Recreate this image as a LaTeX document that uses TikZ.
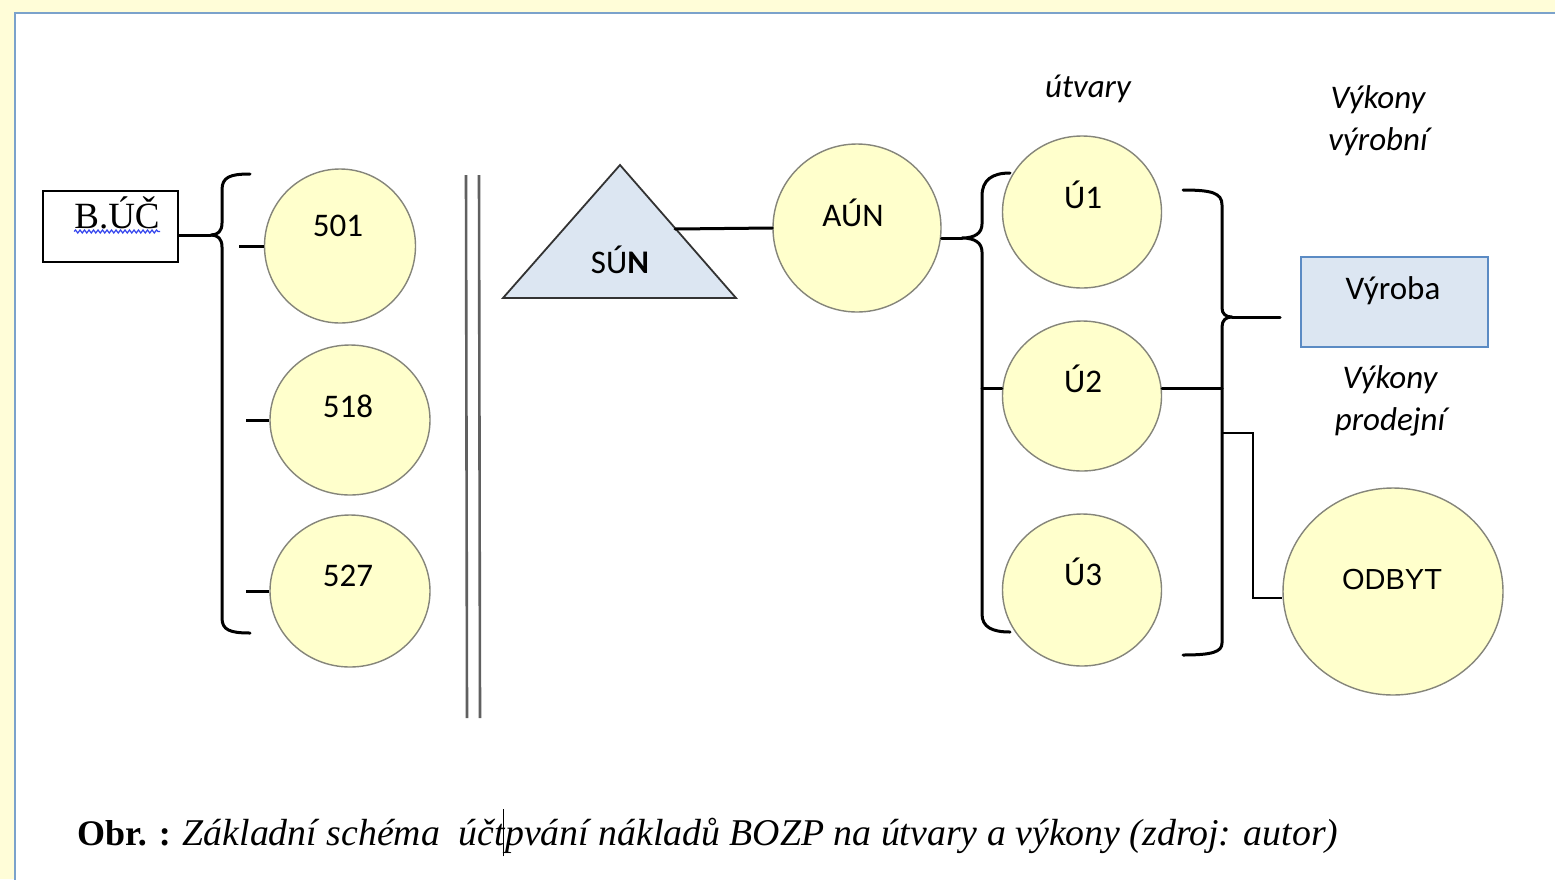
\documentclass[tikz,border=0pt]{standalone}
\usepackage{fontspec}
\setmainfont{Carlito}
\newfontfamily\tms{Liberation Serif}
\newfontfamily\arl{Liberation Sans}
\usetikzlibrary{shapes.geometric,decorations.pathmorphing}
\definecolor{bgyel}{HTML}{FFFDD8}
\definecolor{framec}{HTML}{7BA2CB}
\definecolor{circfill}{HTML}{FFFFCC}
\definecolor{circline}{HTML}{85857A}
\definecolor{bluefill}{HTML}{DCE6F2}
\definecolor{boxline}{HTML}{5B8BC4}
\definecolor{dblline}{HTML}{606060}
\definecolor{spell}{HTML}{3344EE}
\begin{document}
\begin{tikzpicture}[x=1pt,y=-1pt,
  circ/.style={ellipse,draw=circline,fill=circfill,line width=1.4pt,inner sep=0pt},
  lbl/.style={anchor=base,inner sep=0pt,font=\fontsize{33}{36}\selectfont},
  ilbl/.style={anchor=base,inner sep=0pt,font=\fontsize{33}{36}\selectfont\itshape},
  conn/.style={line width=3pt,line cap=round,line join=round},
  brc/.style={line width=3pt,line cap=round,line join=round}]
\useasboundingbox (0,0) rectangle (1555,879);
\clip (0,0) rectangle (1555,879);
\fill[bgyel] (0,0) rectangle (1555,879);
\draw[framec,line width=2.5pt,fill=white] (15,13) rectangle (1620,940);

% B.UC box
\node[draw,line width=1.6pt,minimum width=135pt,minimum height=71pt,inner sep=0pt] (buc) at (110.5,226.5) {};
\node[anchor=base,inner sep=0pt,font=\tms\fontsize{37}{40}\selectfont] (buct) at (117,228) {B.ÚČ};
\draw[spell,line width=1.2pt,decorate,decoration={snake,segment length=4.5pt,amplitude=1.5pt}] (buct.base west) ++(0,3.5) -- ++(86,0);

% left brace
\coordinate (tipL) at (211,235);
\draw[brc] (250,174) .. controls (230,174) and (222,177) .. (222,190) -- (222,223)
  .. controls (222,231) and (218,235) .. (tipL)
  .. controls (218,235) and (222,239) .. (222,247) -- (222,618)
  .. controls (222,630) and (230,633) .. (250,633);
\draw[conn] (buc.east |- tipL) -- (tipL);

% 501 518 527
\node[circ,minimum width=151pt,minimum height=154pt] (c501) at (340,246) {};
\node[lbl] (t501) at (338,236) {501};
\node[circ,minimum width=160pt,minimum height=150pt] (c518) at (350,420) {};
\node[lbl] (t518) at (348,417) {518};
\node[circ,minimum width=160pt,minimum height=152pt] (c527) at (350,591) {};
\node[lbl] (t527) at (348,586) {527};
\draw[conn,line cap=butt] (c501.west) -- ++(-25,0);
\draw[conn,line cap=butt] (c518.west) -- ++(-23,0);
\draw[conn,line cap=butt] (c527.west) -- ++(-23,0);

% double vertical line
\coordinate (v1t) at (466,175); \coordinate (v1b) at (467,718);
\coordinate (v2t) at (479,175); \coordinate (v2b) at (480,718);
\draw[dblline,line width=2.6pt] (v1t) -- (v1b);
\draw[dblline,line width=2.6pt] (v2t) -- (v2b);

% SUN triangle
\coordinate (sa) at (620,165); \coordinate (sl) at (503,298); \coordinate (sr) at (736,298);
\draw[fill=bluefill,draw=black!80,line width=1.8pt,line join=miter] (sa) -- (sr) -- (sl) -- cycle;
\node[lbl] (sun) at (620,273) {SÚ\textbf{N}};
\coordinate (sunR) at (675,229);

% AUN
\node[circ,minimum width=168pt,minimum height=168pt] (aun) at (857,228) {};
\node[lbl] (taun) at (853,226) {AÚN};
\draw[conn] (sunR) -- (aun.west);

% U circles
\node[circ,minimum width=159pt,minimum height=152pt] (u1) at (1082,212) {};
\node[lbl] (tu1) at (1083,208) {Ú1};
\node[circ,minimum width=159pt,minimum height=150pt] (u2) at (1082,396) {};
\node[lbl] (tu2) at (1083,392) {Ú2};
\node[circ,minimum width=159pt,minimum height=152pt] (u3) at (1082,590) {};
\node[lbl] (tu3) at (1083,585) {Ú3};

% brace AUN -> U
\coordinate (tipA) at (962,238);
\draw[brc] (1010,173) .. controls (992,173) and (982,180) .. (982,196) -- (982,224)
  .. controls (982,233) and (975,238) .. (tipA)
  .. controls (975,238) and (982,243) .. (982,252) -- (982,614)
  .. controls (982,627) and (992,632) .. (1010,632);
\draw[conn] (aun.east |- tipA) -- (tipA);
\coordinate (j2) at (982,388);
\draw[conn] (j2) -- (u2.west |- j2);

% right brace
\coordinate (tipR) at (1232,317);
\draw[brc] (1183,190) .. controls (1212,190) and (1222,193) .. (1222,205) -- (1222,308)
  .. controls (1222,314) and (1226,317) .. (tipR)
  .. controls (1226,317) and (1222,320) .. (1222,327) -- (1222,643)
  .. controls (1222,652) and (1212,655) .. (1183,655);
\coordinate (vyrIn) at (1280,317);
\draw[conn] (tipR) -- (vyrIn);
\coordinate (j3) at (1222,388);
\draw[conn] (u2.east |- j3) -- (j3);

% Vyroba
\node[draw=boxline,fill=bluefill,line width=1.6pt,minimum width=187pt,minimum height=90pt,inner sep=0pt] (vyr) at (1394.5,302) {};
\node[lbl] (tvyr) at (1393,299) {Výroba};

% ODBYT
\node[circ,minimum width=220pt,minimum height=207pt] (odb) at (1393,591.5) {};
\node[anchor=base,inner sep=0pt,font=\arl\fontsize{29}{32}\selectfont] (todb) at (1392,589) {ODBYT};
\coordinate (k1) at (1222,433); \coordinate (k2) at (1253,598);
\draw[line width=1.5pt] (k1) -- (k1 -| k2) -- (k2) -- (k2 -| odb.west);

% italic labels
\node[ilbl] (utv) at (1088,97) {útvary};
\node[ilbl] (vk1) at (1378,108) {Výkony};
\node[ilbl] (vk2) at (1378,150) {výrobní};
\node[ilbl] (vk3) at (1390,388) {Výkony};
\node[ilbl] (vk4) at (1390,430) {prodejní};

% caption
\node[anchor=base west,inner sep=0pt,font=\tms\fontsize{36}{40}\selectfont] (cap) at (77,845)
  {\textbf{Obr. :} {\fontsize{37.8}{40}\selectfont\itshape Základní schéma\ \ účt\rlap{\kern-0.05em\rule[-0.3em]{0.8pt}{1.25em}}pvání nákladů BOZP na útvary a výkony (zdroj: autor)}};
\end{tikzpicture}
\end{document}
